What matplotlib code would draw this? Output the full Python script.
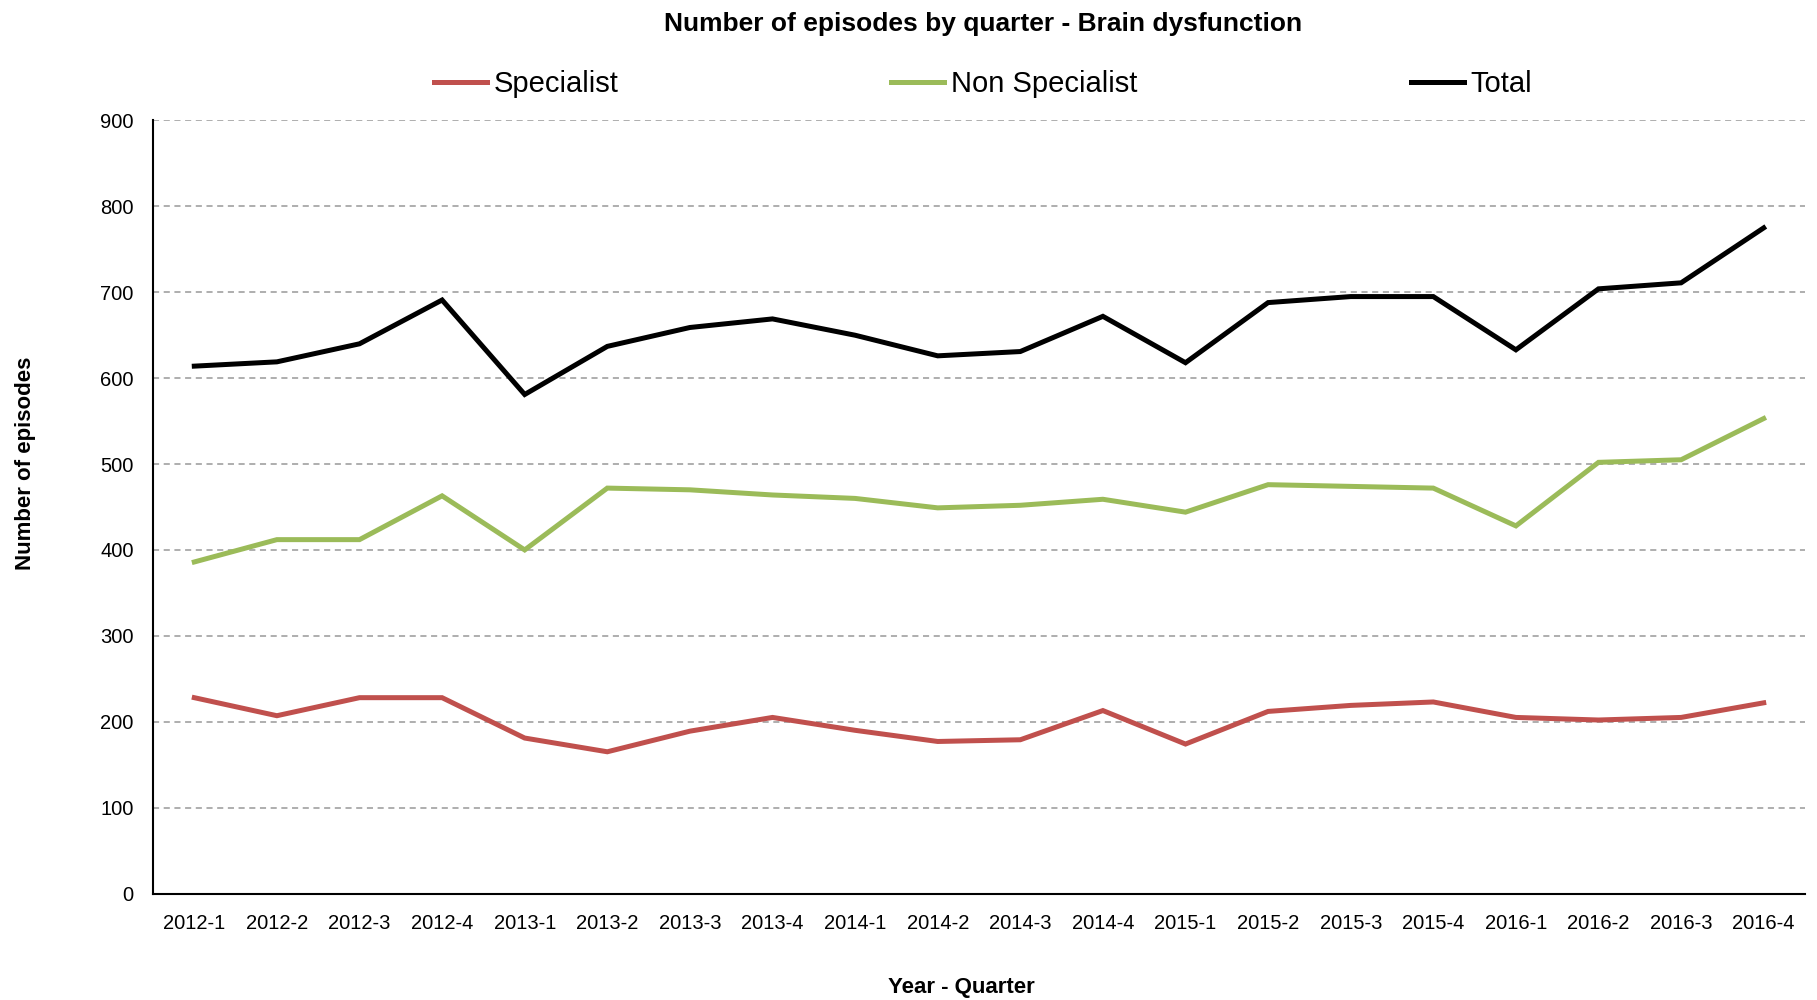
import matplotlib
matplotlib.use('Agg')
import matplotlib.pyplot as plt

plt.rcParams['font.family'] = ['Liberation Sans Narrow', 'Liberation Sans', 'DejaVu Sans']

quarters = ['2012-1', '2012-2', '2012-3', '2012-4', '2013-1', '2013-2', '2013-3', '2013-4',
            '2014-1', '2014-2', '2014-3', '2014-4', '2015-1', '2015-2', '2015-3', '2015-4',
            '2016-1', '2016-2', '2016-3', '2016-4']
specialist = [228, 207, 228, 228, 181, 165, 189, 205, 190, 177, 179, 213, 174, 212, 219, 223,
              205, 202, 205, 222]
non_specialist = [386, 412, 412, 463, 400, 472, 470, 464, 460, 449, 452, 459, 444, 476, 474, 472,
                  428, 502, 505, 553]
total = [614, 619, 640, 691, 581, 637, 659, 669, 650, 626, 631, 672, 618, 688, 695, 695,
         633, 704, 711, 775]

fig = plt.figure(figsize=(18.17, 10), dpi=100)
ax = fig.add_axes([0.0842, 0.1065, 0.9092, 0.773])

x = range(len(quarters))
ax.plot(x, specialist, color='#C0504D', lw=3.6, label='Specialist', solid_joinstyle='miter')
ax.plot(x, non_specialist, color='#9BBB59', lw=3.6, label='Non Specialist', solid_joinstyle='miter')
ax.plot(x, total, color='black', lw=3.6, label='Total', solid_joinstyle='miter')

ax.set_xlim(-0.5, len(quarters) - 0.5)
ax.set_ylim(0, 900)
ax.set_yticks(range(0, 1000, 100))
ax.set_xticks(list(x))
ax.set_xticklabels(quarters)
ax.tick_params(axis='both', length=0, labelsize=14.5)
ax.tick_params(axis='x', pad=15)
ax.tick_params(axis='y', pad=14)

for v in range(100, 1000, 100):
    ax.axhline(v, color='#999999', lw=1.1, ls=(0, (4, 3)), zorder=0)

for s in ['top', 'right']:
    ax.spines[s].set_visible(False)
for s in ['left', 'bottom']:
    ax.spines[s].set_linewidth(1.5)

fig.text(0.541, 0.976, 'Number of episodes by quarter - Brain dysfunction', ha='center', va='center',
         fontsize=19, fontweight='bold')
fig.text(0.529, 0.013, 'Year - Quarter', ha='center', va='center', fontsize=16, fontweight='bold')
fig.text(0.014, 0.537, 'Number of episodes', ha='center', va='center', rotation=90,
         fontsize=16, fontweight='bold')

fig.legend(loc='center', bbox_to_anchor=(0.541, 0.916), ncol=3, frameon=False, fontsize=21,
           handlelength=1.82, handletextpad=0.24, columnspacing=9.35)

fig.savefig('out.png', dpi=100)
